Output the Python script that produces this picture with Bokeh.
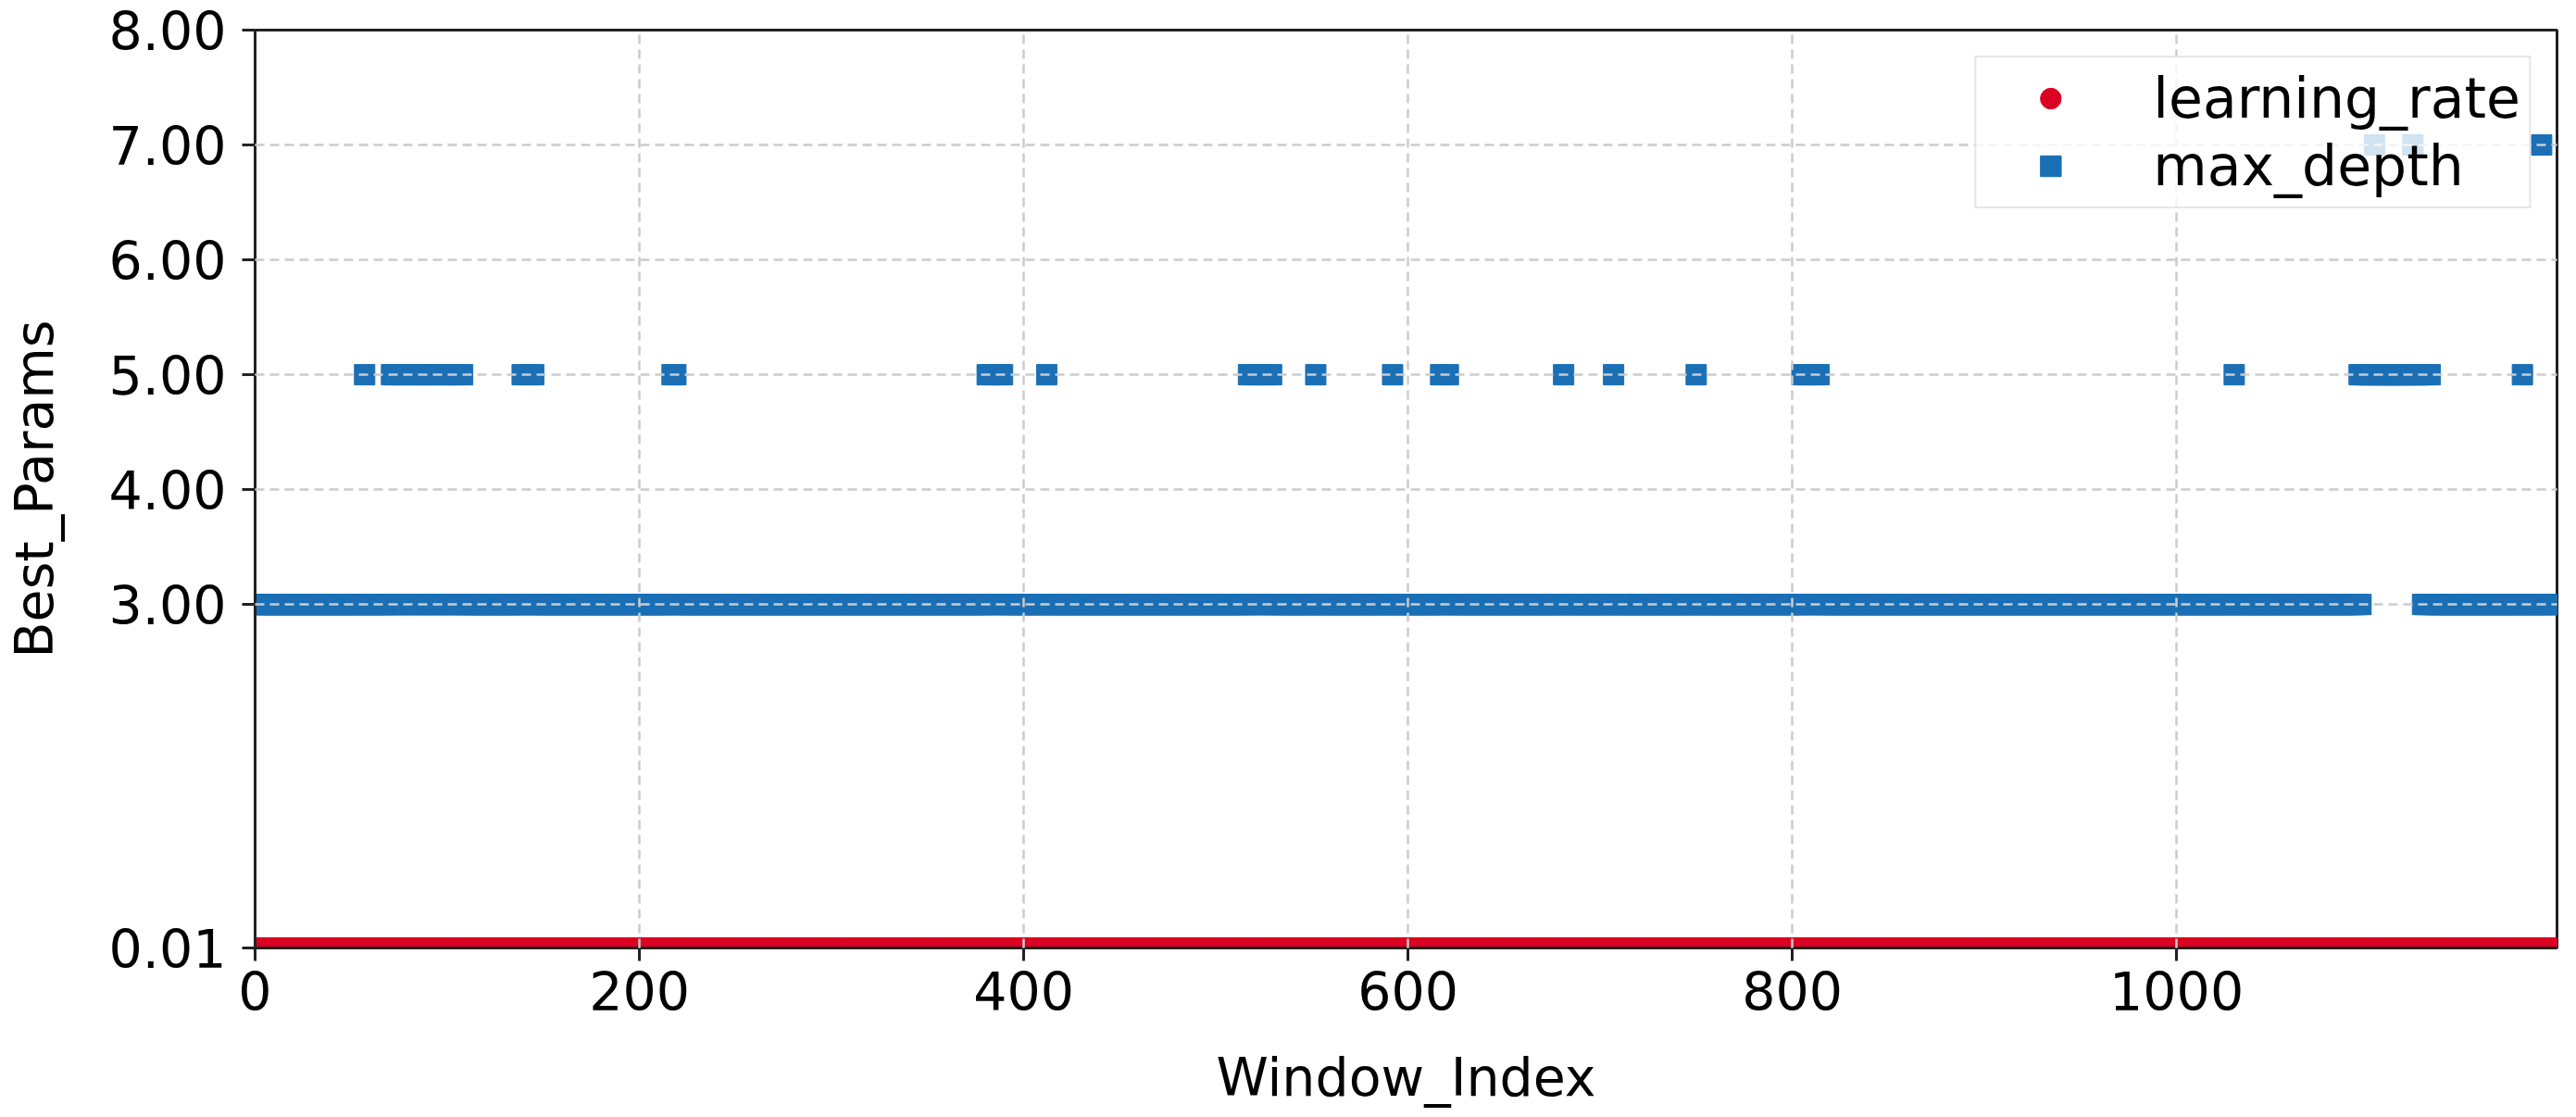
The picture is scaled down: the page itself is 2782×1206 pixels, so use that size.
from bokeh.plotting import figure
from bokeh.models import (FixedTicker, PrintfTickFormatter, Range1d, Legend,
                          LegendItem, ColumnDataSource)
from bokeh.embed import file_html
from bokeh.resources import INLINE

# ---- data ----
n_windows = 1199
x_ticks = [0, 200, 400, 600, 800, 1000]
y_ticks = [0.01, 3, 4, 5, 6, 7, 8]
learning_rate_value = 0.01
max_depth_default = 3
depth5_idx = [57, 71, 73, 76, 79, 82, 85, 88, 91, 94, 97, 100, 103, 106, 108,
              139, 142, 145, 217, 219, 381, 384, 387, 389, 412,
              517, 520, 523, 526, 529, 552, 592, 617, 621, 681, 707, 750,
              805, 808, 811, 814, 1030, 1095,
              1097, 1098, 1099, 1100, 1101, 1102, 1104, 1105, 1106, 1107,
              1108, 1109, 1110, 1111, 1112, 1113, 1114, 1115, 1116, 1117,
              1118, 1119, 1120, 1121, 1122, 1124, 1125, 1126, 1127,
              1130, 1132, 1180]
depth7_idx = [1103, 1123, 1190]

window_index = list(range(n_windows))
learning_rate = [learning_rate_value] * n_windows
max_depth = [max_depth_default] * n_windows
for i in depth5_idx:
    max_depth[i] = 5
for i in depth7_idx:
    max_depth[i] = 7

RED = "#dc0022"
BLUE = "#1a6fb5"
FONT = "DejaVu Sans"
TXT = "57px"

src = ColumnDataSource(dict(x=window_index, lr=learning_rate, md=max_depth))

p = figure(width=2774, height=1198, output_backend="svg", toolbar_location=None,
           x_range=Range1d(0, 1198), y_range=Range1d(0.01, 8.0),
           min_border_left=275, min_border_right=13, min_border_top=32,
           min_border_bottom=172)
p.background_fill_color = "white"
p.border_fill_color = "white"
p.outline_line_color = "#222222"
p.outline_line_width = 3

r_md = p.scatter("x", "md", source=src, marker="square", size=22,
                 fill_color=BLUE, line_color=BLUE, line_width=1)
r_lr = p.scatter("x", "lr", source=src, marker="circle", size=22,
                 fill_color=RED, line_color=RED, line_width=1)

# axes
p.xaxis.ticker = FixedTicker(ticks=x_ticks)
p.yaxis.ticker = FixedTicker(ticks=y_ticks)
p.yaxis.formatter = PrintfTickFormatter(format="%.2f")
p.xaxis.axis_label = "Window_Index"
p.yaxis.axis_label = "Best_Params"
for ax in (p.xaxis, p.yaxis):
    ax.axis_label_text_font = FONT
    ax.axis_label_text_font_size = TXT
    ax.axis_label_text_font_style = "normal"
    ax.axis_label_text_color = "black"
    ax.major_label_text_font = FONT
    ax.major_label_text_font_size = TXT
    ax.major_label_text_color = "black"
    ax.axis_line_color = "#222222"
    ax.axis_line_width = 3
    ax.major_tick_line_color = "#222222"
    ax.major_tick_line_width = 3
    ax.major_tick_out = 14
    ax.major_tick_in = 0
    ax.minor_tick_line_color = None
p.xaxis.major_label_standoff = 11
p.yaxis.major_label_standoff = 17
p.xaxis.axis_label_standoff = 36
p.yaxis.axis_label_standoff = 45

# grid drawn above the markers
for g in (p.xgrid, p.ygrid):
    g.grid_line_color = "#cccccc"
    g.grid_line_width = 2.5
    g.grid_line_dash = "10 6"
    g.level = "guide"
p.xgrid.ticker = FixedTicker(ticks=x_ticks)
p.ygrid.ticker = FixedTicker(ticks=y_ticks)

legend = Legend(items=[LegendItem(label="learning_rate", renderers=[r_lr]),
                       LegendItem(label="max_depth", renderers=[r_md])],
                location="top_right")
legend.label_text_font = FONT
legend.label_text_font_size = "60px"
legend.label_text_color = "black"
legend.glyph_width = 142
legend.glyph_height = 56
legend.label_height = 56
legend.padding = 9
legend.spacing = 3
legend.label_standoff = 40
legend.margin = 28
legend.border_line_color = "#cccccc"
legend.border_line_width = 2
legend.background_fill_color = "white"
legend.background_fill_alpha = 0.8
p.add_layout(legend)

open("out.html", "w").write(file_html(p, INLINE))
